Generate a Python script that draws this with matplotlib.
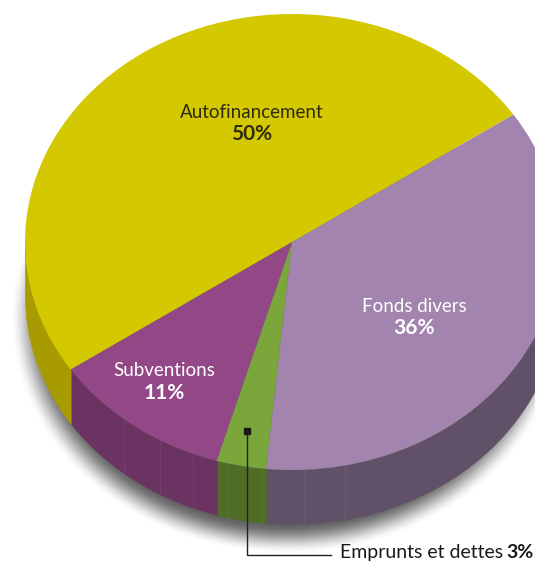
import numpy as np
import matplotlib
matplotlib.use('Agg')
import matplotlib.pyplot as plt

# data, clockwise from the top right edge
categories = ['Fonds divers', 'Emprunts et dettes', 'Subventions', 'Autofinancement']
values = [36, 3, 11, 50]
start_angle = 34

top_colors = ['#a284ae', '#7aa63c', '#924787', '#d4c800']
wall_colors = ['#615168', '#4f6d25', '#6a3362', '#a89b00']
text_colors = ['white', None, 'white', '#2e2b10']

# picture geometry in pixels
W, H = 535, 563
CX, CY, RX, RY = 292, 242, 267, 228
DEPTH = 54 / RY
seams = [124, 160, 193, 228, 262, 304, 345]

plt.rcParams['font.family'] = ['Lato', 'DejaVu Sans']

fig = plt.figure(figsize=(W / 100, H / 100), dpi=100)
ax = fig.add_axes([0, 0, 1, 1])


def px(x, y):
    # pixel of the picture --> data coordinates (unit circle = top of the pie)
    return (x - CX) / RX, (CY - y) / RY


# soft shadow under the pie
xs = np.linspace(px(0, 0)[0], px(W, 0)[0], W)
ys = np.linspace(px(0, H)[1], px(0, 0)[1], H)
X, Y = np.meshgrid(xs, ys)
dist = (np.hypot(X + 5 / RX, Y + DEPTH + 22 / RY) - 1) * RY
t = np.clip(1 - (dist + 22) / 31, 0, 1)
shadow = np.zeros(X.shape + (4,))
shadow[..., 3] = 0.62 * t * t * (3 - 2 * t)
ax.imshow(shadow, extent=[xs[0], xs[-1], ys[0], ys[-1]], origin='lower',
          aspect='auto', zorder=1, interpolation='bilinear')

# side wall of the pie, one piece per slice
edges = start_angle - np.cumsum([0] + values) * 3.6
for i in range(len(values)):
    a = np.radians(np.linspace(edges[i + 1], edges[i], 300))
    a = a[(np.sin(a) <= 0)]
    if len(a) == 0:
        continue
    ax.fill_between(np.cos(a), np.sin(a), np.sin(a) - DEPTH, color=wall_colors[i],
                    lw=0.4, zorder=2)

# thin lighter seams in the wall
for s in seams:
    x0 = (s - CX) / RX
    y0 = -np.sqrt(1 - x0 ** 2)
    ax.plot([x0, x0], [y0, y0 - DEPTH], color='white', alpha=0.05, lw=1, zorder=3)

# top of the pie
wedges, _ = ax.pie(values, colors=top_colors, startangle=start_angle, counterclock=False,
                   radius=1, wedgeprops={'linewidth': 0})
for w in wedges:
    w.set_zorder(4)
ax.set_aspect('auto')
ax.set_xlim(px(0, 0)[0], px(W, 0)[0])
ax.set_ylim(px(0, H)[1], px(0, 0)[1])
ax.axis('off')

# labels on the slices
label_pos = {0: (414, 306), 2: (164.5, 371), 3: (252, 112)}
for i, (x, y) in label_pos.items():
    lx, ly = px(x, y)
    ax.text(lx, ly, categories[i], color=text_colors[i], fontsize=13.5, ha='center',
            va='center', zorder=6)
    lx, ly = px(x, y + 22)
    ax.text(lx, ly, f'{values[i]}%', color=text_colors[i], fontsize=15, fontweight='bold',
            ha='center', va='center', zorder=6)

# leader line for the small slice
lx = [px(247, 0)[0], px(247, 0)[0], px(331, 0)[0]]
ly = [px(0, 431)[1], px(0, 555)[1], px(0, 555)[1]]
ax.plot(lx, ly, color='#222222', lw=1, zorder=6, solid_joinstyle='miter')
ax.plot(lx[0], ly[0], 's', color='#1a1a1a', ms=4.5, zorder=7)

tx, ty = px(533.5, 552.5)
ax.text(tx, ty, f'{values[1]}%', color='#1a1a1a', fontsize=14, fontweight='bold',
        ha='right', va='center', zorder=6, clip_on=False)
tx, ty = px(503, 552.5)
ax.text(tx, ty, categories[1], color='#1a1a1a', fontsize=14, ha='right', va='center', zorder=6)

fig.savefig('out.png', dpi=100, facecolor='white')
